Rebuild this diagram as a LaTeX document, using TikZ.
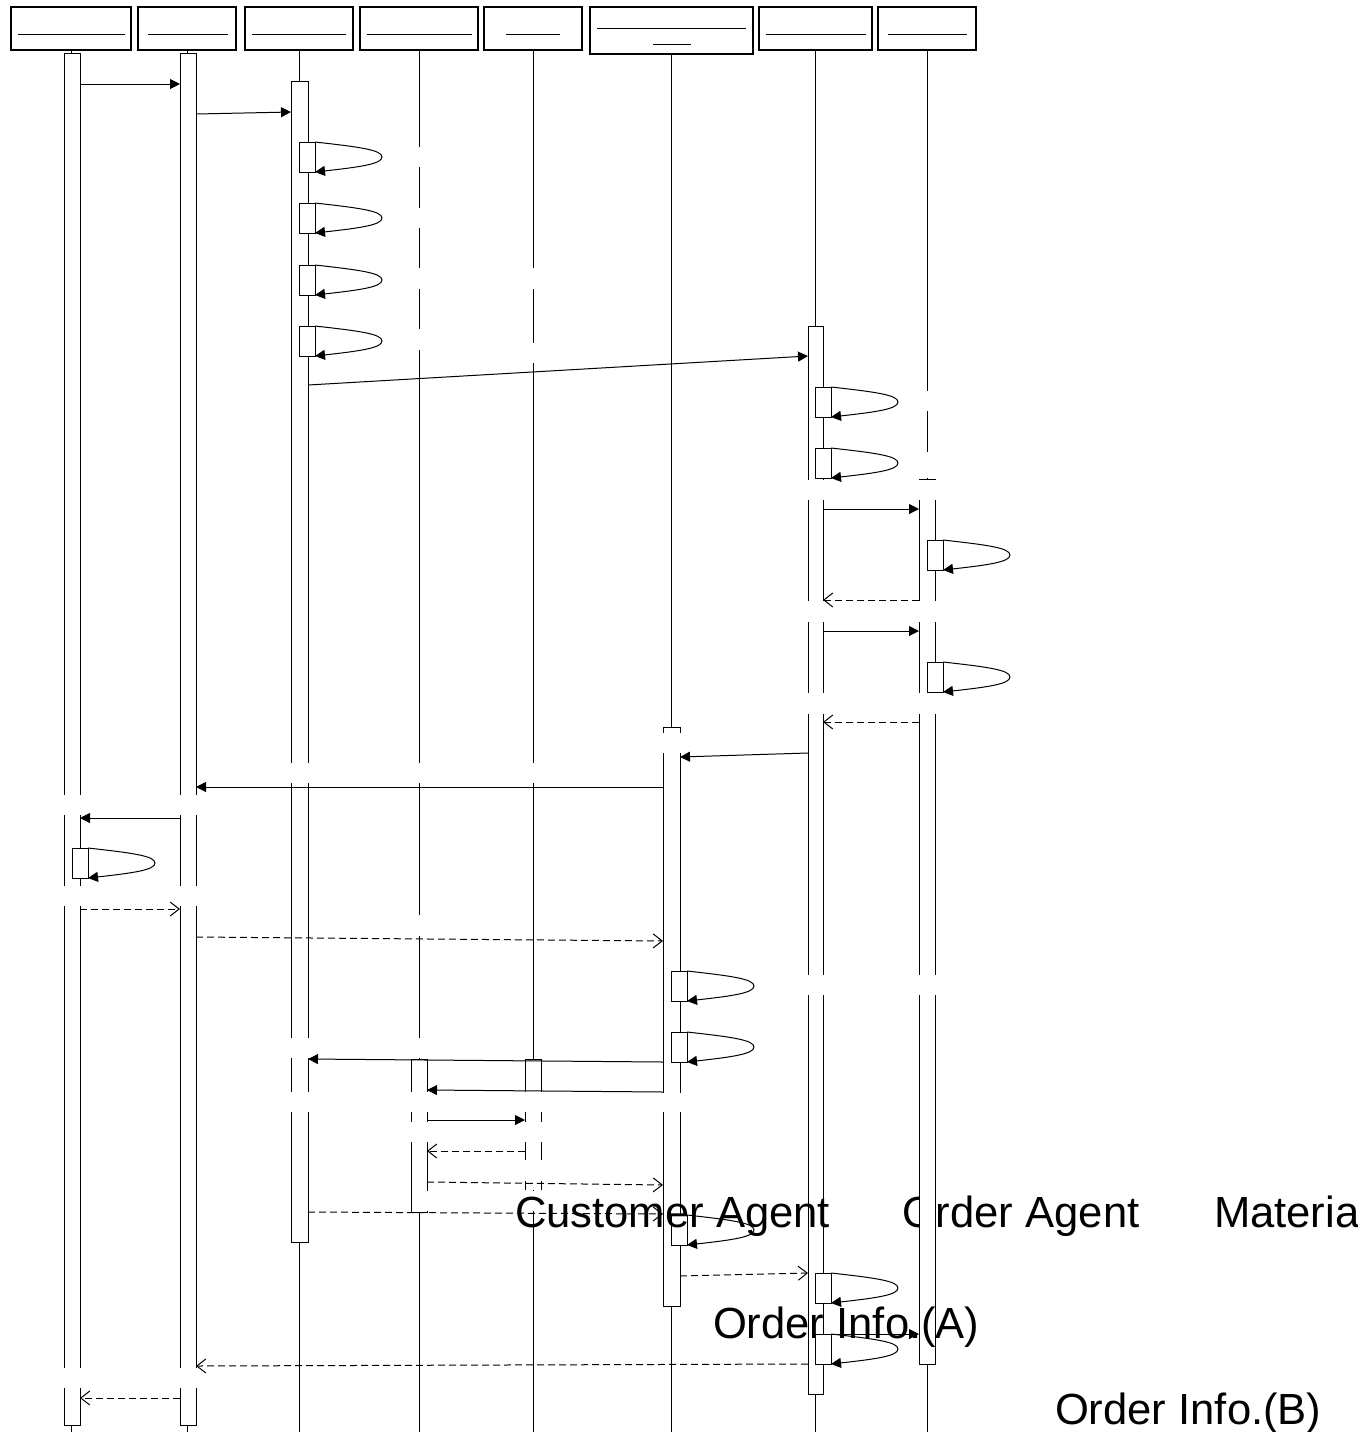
\documentclass[tikz,border=0pt]{standalone}
\usepackage{fontspec}
\setmainfont{Liberation Sans}
\usetikzlibrary{arrows.meta}
\tikzset{
  ln/.style={line width=0.5pt, draw=black},
  hdr/.style={draw=black, line width=0.6pt, fill=white, inner sep=0pt, outer sep=0pt, anchor=north west},
  actbar/.style={draw=black, line width=0.5pt, fill=white},
  call/.style={line width=0.5pt, -{Triangle[length=5pt,width=5pt]}},
  ret/.style={line width=0.5pt, dash pattern=on 3.5pt off 2pt, -{Straight Barb[length=4.5pt,width=7pt]}},
  gapfill/.style={fill=white, draw=none},
  lbl/.style={font=\fontsize{21.8pt}{24pt}\selectfont, inner sep=0pt, outer sep=0pt, anchor=base west},
}
\newcommand\selfcall[3]{%
  \draw[actbar] (#2,#3) rectangle (#2+16,#3+30);
  \coordinate (#1a) at (#2+16,#3);
  \coordinate (#1b) at (#2+16,#3+30);
  \draw[call] (#1a) .. controls (#2+61,#3+5) and (#2+83,#3+8) .. (#2+83,#3+15)
     .. controls (#2+83,#3+22) and (#2+61,#3+25) .. (#1b);
}
\newcommand\msg[6]{%
  \coordinate (#2s) at (#3,#4);
  \coordinate (#2e) at (#5,#6);
  \draw[#1] (#2s) -- (#2e);
}
\newcommand\gaps[3]{% x1 x2 list of y1/y2
  \foreach \ya/\yb in {#3} {\fill[gapfill] (#1,\ya) rectangle (#2,\yb);}
}
\begin{document}
\begin{tikzpicture}[x=0.5pt,y=-0.5pt]
\useasboundingbox (0,0) rectangle (1358,1432);
% header boxes
\node[hdr, minimum width=60pt, minimum height=21.5pt] (h1) at (11,7) {};
\node[hdr, minimum width=49pt, minimum height=21.5pt] (h2) at (138,7) {};
\node[hdr, minimum width=54pt, minimum height=21.5pt] (h3) at (245,7) {};
\node[hdr, minimum width=59pt, minimum height=21.5pt] (h4) at (360,7) {};
\node[hdr, minimum width=49pt, minimum height=21.5pt] (h5) at (484,7) {};
\node[hdr, minimum width=81.5pt, minimum height=23.5pt] (h6) at (590,7) {};
\node[hdr, minimum width=56.5pt, minimum height=21.5pt] (h7) at (759,7) {};
\node[hdr, minimum width=49pt, minimum height=21.5pt] (h8) at (878,7) {};
% underlines (empty names)
\draw[ln] (18,34) -- (125,34);
\draw[ln] (148,34) -- (228,34);
\draw[ln] (252,34) -- (346,34);
\draw[ln] (367,34) -- (472,34);
\draw[ln] (506,34) -- (560,34);
\draw[ln] (597,28) -- (746,28);
\draw[ln] (653,44) -- (691,44);
\draw[ln] (766,34) -- (866,34);
\draw[ln] (888,34) -- (967,34);
% lifelines
\draw[ln] (h1.south) -- (h1.south |- 0,1432);
\draw[ln] (h2.south) -- (h2.south |- 0,1432);
\draw[ln] (h3.south) -- (h3.south |- 0,1432);
\draw[ln] (h4.south) -- (h4.south |- 0,1432);
\draw[ln] (h5.south) -- (h5.south |- 0,1432);
\draw[ln] (h6.south) -- (h6.south |- 0,1432);
\draw[ln] (h7.south) -- (h7.south |- 0,1432);
\draw[ln] (h8.south) -- (h8.south |- 0,1432);
% label under the L8 bar
\node[lbl] (tOA) at (902,1227) {Order Agent};
% activation bars
\draw[actbar] (64,53) rectangle (80,1425);
\draw[actbar] (180,53) rectangle (196,1425);
\draw[actbar] (291,81) rectangle (308,1242);
\draw[actbar] (411,1059) rectangle (427,1212);
\fill[white] (525,1059) rectangle (541,1190);
\draw[ln] (525,1190) -- (525,1059) -- (541,1059) -- (541,1190);
\draw[actbar] (663,727) rectangle (680,1306);
\draw[actbar] (808,326) rectangle (823,1394);
\draw[actbar] (919,479) rectangle (935,1364);
% gaps
\gaps{61}{83}{795/815,886/906,1368/1388}
\gaps{177}{199}{795/815,886/906,1368/1388}
\gaps{288}{311}{763/783,1038/1058,1092/1112}
\gaps{408}{430}{147/167,208/228,268/289,329/350,763/783,915/936,1038/1058,1092/1112,1122/1142}
\gaps{522}{544}{268/289,343/363,763/783,1092/1112,1122/1142,1160/1181}
\gaps{424}{545}{1191/1211}
\gaps{660}{683}{733/753,1093/1112}
\gaps{805}{826}{480/500,601/622,693/714,975/995}
\gaps{916}{938}{391/411,452/478,480/500,601/622,693/714,975/995}
% messages
\msg{call}{m1}{80}{84}{180}{84}
\msg{call}{m2}{196}{114}{291}{112}
\selfcall{s1}{299}{142}
\selfcall{s2}{299}{203}
\selfcall{s3}{299}{265}
\selfcall{s4}{299}{326}
\msg{call}{m3}{308}{385}{808}{356}
\selfcall{s5}{815}{387}
\selfcall{s6}{815}{448}
\msg{call}{m4}{823}{509}{919}{509}
\selfcall{s7}{927}{540}
\msg{ret}{m5}{919}{600}{823}{600}
\msg{call}{m6}{823}{631}{919}{631}
\selfcall{s8}{927}{662}
\msg{ret}{m7}{919}{722}{823}{722}
\msg{call}{m8}{808}{753}{680}{757}
\msg{call}{m9}{663}{787}{196}{787}
\msg{call}{m10}{180}{818}{80}{818}
\selfcall{s9}{72}{848}
\msg{ret}{m11}{80}{909}{180}{909}
\msg{ret}{m12}{196}{937}{663}{941}
\selfcall{s10}{671}{971}
\selfcall{s11}{671}{1032}
\msg{call}{m13}{663}{1062}{308}{1059}
\msg{call}{m14}{663}{1092}{427}{1090}
\msg{call}{m15}{427}{1120}{525}{1120}
\msg{ret}{m16}{525}{1151}{427}{1151}
\msg{ret}{m17}{427}{1182}{663}{1185}
\msg{ret}{m18}{308}{1212}{663}{1214}
\selfcall{s12}{671}{1215}
\msg{ret}{m19}{680}{1276}{808}{1273}
\selfcall{s13}{815}{1273}
\msg{call}{m20}{816}{1334}{919}{1334}
\selfcall{s14}{815}{1334}
\msg{ret}{m21}{808}{1364}{196}{1366}
\msg{ret}{m22}{180}{1398}{80}{1398}
% labels
\node[lbl] (tCA) at (515,1227) {Customer Agent};
\node[lbl] (tMA) at (1214,1227) {Materia};
\node[lbl] (tOIA) at (713,1338) {Order Info.(A)};
\node[lbl] (tOIB) at (1055,1424) {Order Info.(B)};
\end{tikzpicture}
\end{document}
